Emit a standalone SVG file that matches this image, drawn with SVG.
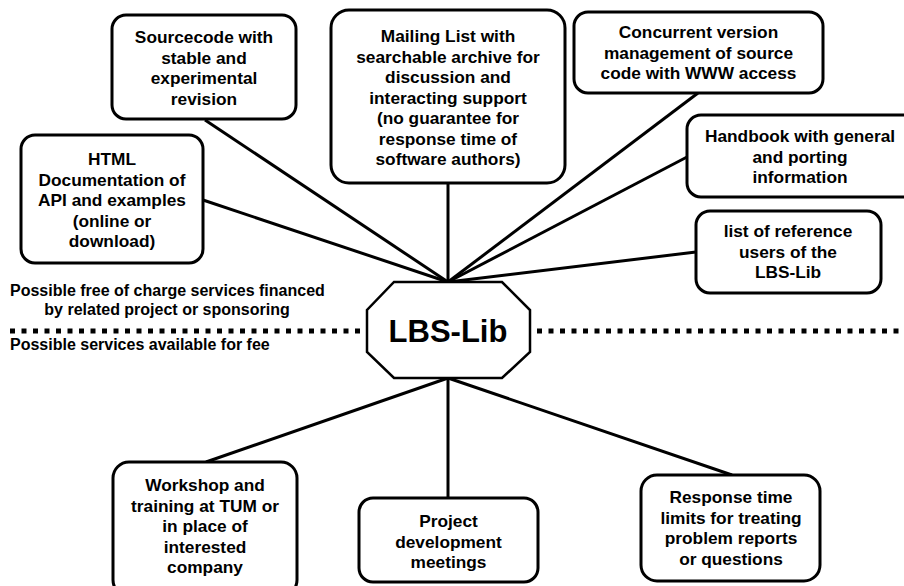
<svg xmlns="http://www.w3.org/2000/svg" width="904" height="586" viewBox="0 0 904 586">
<style>
  .box { fill: #fff; stroke: #000; stroke-width: 3; }
  .t { font-family: "Liberation Sans", Arial, sans-serif; font-weight: bold; font-size: 17.3px; fill: #000; text-anchor: middle; }
  .lbl { font-family: "Liberation Sans", Arial, sans-serif; font-weight: bold; font-size: 16px; fill: #000; }
  .con { stroke: #000; stroke-width: 3; fill: none; }
  .dots { stroke: #000; stroke-width: 5; stroke-dasharray: 5 6.5; fill: none; }
</style>
<rect width="904" height="586" fill="#fff"/>

<g id="connectors">
  <line class="con" x1="205" y1="120" x2="448" y2="282"/>
  <line class="con" x1="203" y1="200" x2="448" y2="282"/>
  <line class="con" x1="448" y1="183" x2="448" y2="282"/>
  <line class="con" x1="698" y1="93" x2="448" y2="282"/>
  <line class="con" x1="687" y1="157" x2="448" y2="282"/>
  <line class="con" x1="696" y1="252" x2="448" y2="282"/>
  <line class="con" x1="448" y1="378" x2="206" y2="462"/>
  <line class="con" x1="448" y1="378" x2="448" y2="498"/>
  <line class="con" x1="448" y1="378" x2="732" y2="475"/>
</g>

<g id="separator">
  <line class="dots" x1="10" y1="331" x2="364" y2="331"/>
  <line class="dots" x1="537" y1="331" x2="904" y2="331"/>
</g>

<g id="labels">
  <text class="lbl" x="10" y="296">Possible free of charge services financed</text>
  <text class="lbl" x="167" y="315" text-anchor="middle">by related project or sponsoring</text>
  <text class="lbl" x="10" y="350">Possible services available for fee</text>
</g>

<g id="node-sourcecode">
  <rect class="box" x="112" y="15" width="184" height="104" rx="14"/>
  <text class="t" x="204" y="43">Sourcecode with</text>
  <text class="t" x="204" y="63.5">stable and</text>
  <text class="t" x="204" y="84">experimental</text>
  <text class="t" x="204" y="104.5">revision</text>
</g>

<g id="node-html">
  <rect class="box" x="21" y="135" width="182" height="128" rx="14"/>
  <text class="t" x="112" y="165">HTML</text>
  <text class="t" x="112" y="185.5">Documentation of</text>
  <text class="t" x="112" y="206">API and examples</text>
  <text class="t" x="112" y="226.5">(online or</text>
  <text class="t" x="112" y="247">download)</text>
</g>

<g id="node-mailing">
  <rect class="box" x="331" y="10" width="234" height="173" rx="18"/>
  <text class="t" x="448" y="42">Mailing List with</text>
  <text class="t" x="448" y="62.5">searchable archive for</text>
  <text class="t" x="448" y="83">discussion and</text>
  <text class="t" x="448" y="103.5">interacting support</text>
  <text class="t" x="448" y="124">(no guarantee for</text>
  <text class="t" x="448" y="144.5">response time of</text>
  <text class="t" x="448" y="165">software authors)</text>
</g>

<g id="node-concurrent">
  <rect class="box" x="574" y="12" width="249" height="81" rx="14"/>
  <text class="t" x="698.5" y="38">Concurrent version</text>
  <text class="t" x="698.5" y="58.5">management of source</text>
  <text class="t" x="698.5" y="79">code with WWW access</text>
</g>

<g id="node-handbook">
  <rect class="box" x="687" y="115" width="230" height="82" rx="14"/>
  <text class="t" x="800" y="142">Handbook with general</text>
  <text class="t" x="800" y="162.5">and porting</text>
  <text class="t" x="800" y="183">information</text>
</g>

<g id="node-reference">
  <rect class="box" x="696" y="211" width="185" height="82" rx="14"/>
  <text class="t" x="788" y="237">list of reference</text>
  <text class="t" x="788" y="257.5">users of the</text>
  <text class="t" x="788" y="278">LBS-Lib</text>
</g>

<g id="node-lbslib">
  <polygon points="394,282 502,282 530,310 530,352 502,378 394,378 367,352 367,310" fill="#fff" stroke="#000" stroke-width="2.5"/>
  <text x="448" y="342" text-anchor="middle" font-family="Liberation Sans, Arial, sans-serif" font-weight="bold" font-size="31px">LBS-Lib</text>
</g>

<g id="node-workshop">
  <rect class="box" x="113" y="462" width="184" height="134" rx="16"/>
  <text class="t" x="205" y="491">Workshop and</text>
  <text class="t" x="205" y="511.5">training at TUM or</text>
  <text class="t" x="205" y="532">in place of</text>
  <text class="t" x="205" y="552.5">interested</text>
  <text class="t" x="205" y="573">company</text>
</g>

<g id="node-project">
  <rect class="box" x="359" y="498" width="179" height="84" rx="14"/>
  <text class="t" x="448.5" y="527">Project</text>
  <text class="t" x="448.5" y="547.5">development</text>
  <text class="t" x="448.5" y="568">meetings</text>
</g>

<g id="node-response">
  <rect class="box" x="641" y="475" width="179" height="106" rx="16"/>
  <text class="t" x="731" y="503">Response time</text>
  <text class="t" x="731" y="523.5">limits for treating</text>
  <text class="t" x="731" y="544">problem reports</text>
  <text class="t" x="731" y="564.5">or questions</text>
</g>
</svg>
